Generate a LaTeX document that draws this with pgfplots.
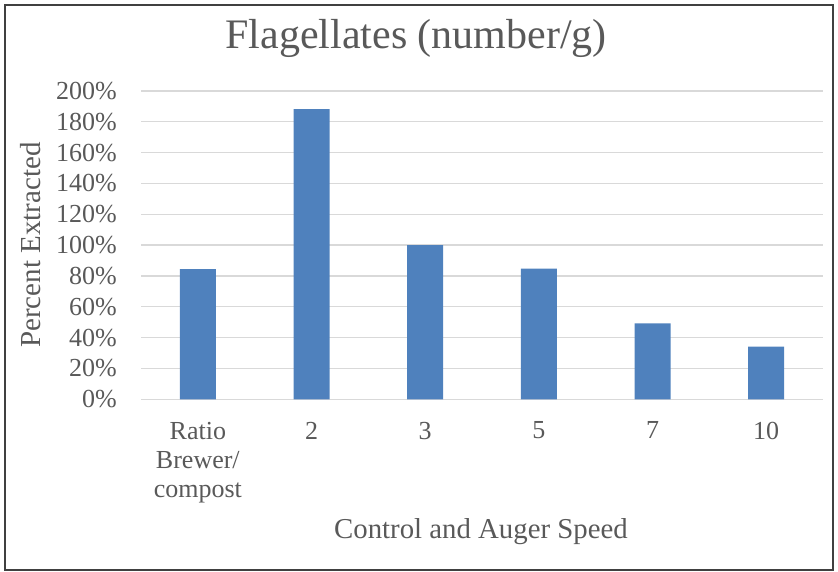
\documentclass[border=0pt]{standalone}
\usepackage{fontspec}
\setmainfont{Liberation Serif}
\usepackage{pgfplots}
\pgfplotsset{compat=1.18}
\definecolor{BarBlue}{HTML}{4F81BD}
\definecolor{GridGray}{HTML}{D9D9D9}
\definecolor{TextGray}{HTML}{595959}
\definecolor{FrameGray}{HTML}{404040}

\begin{document}
\begin{tikzpicture}[x=1pt,y=1pt]
\useasboundingbox (0,0) rectangle (838,572);
\draw[FrameGray, line width=1.5pt] (5,2) rectangle (833,567);
\begin{axis}[
  at={(141pt,172.7pt)}, anchor=south west,
  scale only axis, width=682pt, height=308.3pt,
  ybar, bar width=36pt,
  xmin=-0.5, xmax=5.5, ymin=0, ymax=200,
  xtick=data,
  xticklabels={Ratio\\Brewer/\\compost,2,3,5,7,10},
  ytick={0,20,...,200},
  yticklabels={0\%,20\%,40\%,60\%,80\%,100\%,120\%,140\%,160\%,180\%,200\%},
  ymajorgrids, grid style={GridGray, line width=1.3pt},
  axis line style={draw=none}, major tick length=0pt, tick style={draw=none},
  yticklabel style={font=\fontsize{26}{29}\selectfont, color=TextGray,
    inner sep=0pt, anchor=east, xshift=-24pt},
  xticklabel style={font=\fontsize{26}{29}\selectfont, color=TextGray,
    inner sep=0pt, anchor=north, align=center, yshift=-22.4pt},
  title={Flagellates (number/g)},
  title style={font=\fontsize{42}{46}\selectfont, color=TextGray,
    at={(axis description cs:0.4034,1.1385)}, anchor=base, yshift=-6pt},
  xlabel={Control and Auger Speed},
  xlabel style={font=\fontsize{28.8}{32}\selectfont, color=TextGray,
    at={(axis description cs:0.4985,-0.451)}, anchor=base},
  ylabel={Percent Extracted},
  ylabel style={font=\fontsize{29}{32}\selectfont, color=TextGray,
    at={(axis description cs:-0.147,0.5)}, anchor=base},
]
\addplot[fill=BarBlue, draw=none]
  coordinates {(0,84.5) (1,188.3) (2,100) (3,84.7) (4,49.3) (5,34.1)};
\end{axis}
\end{tikzpicture}
\end{document}
